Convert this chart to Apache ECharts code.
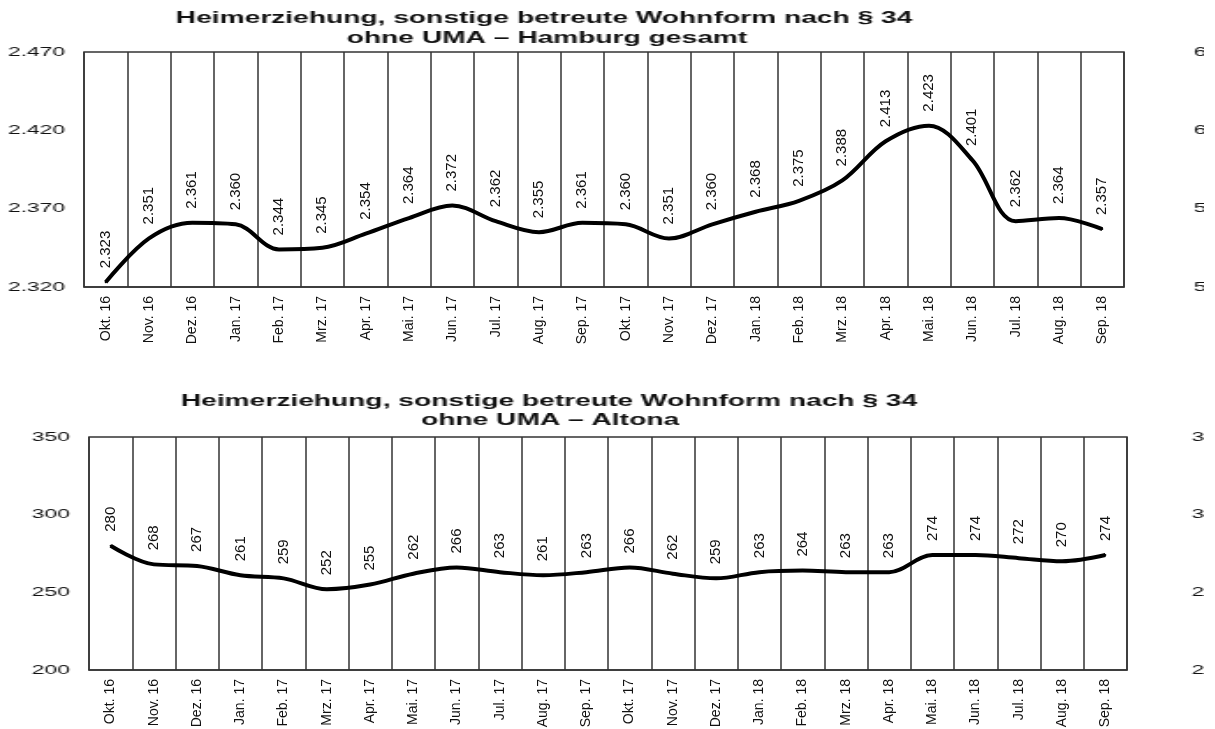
<!DOCTYPE html>
<html><head><meta charset="utf-8">
<script src="https://cdn.jsdelivr.net/npm/echarts@6/dist/echarts.min.js"></script>
<style>
html,body{margin:0;padding:0;background:#fff;overflow:hidden;}
#wrap{position:relative;width:1215px;height:729px;}
#main{position:absolute;left:0;top:0;width:1215px;height:729px;}
#over{position:absolute;left:0;top:0;width:684.2px;height:729px;transform:scaleX(1.76);transform-origin:0 0;overflow:hidden;}
</style></head><body>
<div id="wrap"><div id="main"></div><div id="over"></div></div>
<script>
const categories = ['Okt. 16','Nov. 16','Dez. 16','Jan. 17','Feb. 17','Mrz. 17','Apr. 17','Mai. 17','Jun. 17','Jul. 17','Aug. 17','Sep. 17','Okt. 17','Nov. 17','Dez. 17','Jan. 18','Feb. 18','Mrz. 18','Apr. 18','Mai. 18','Jun. 18','Jul. 18','Aug. 18','Sep. 18'];
const hamburg = [2323,2351,2361,2360,2344,2345,2354,2364,2372,2362,2355,2361,2360,2351,2360,2368,2375,2388,2413,2423,2401,2362,2364,2357];
const altona = [280,268,267,261,259,252,255,262,266,263,261,263,266,262,259,263,264,263,263,274,274,272,270,274];
const hamburgTicks = [2320,2370,2420,2470];
const hamburgRightTicks = [500,550,600,650];
const altonaTicks = [200,250,300,350];
const altonaRightTicks = [200,250,300,350];
const titleTop = ['Heimerziehung, sonstige betreute Wohnform nach § 34','ohne UMA – Hamburg gesamt'];
const titleBottom = ['Heimerziehung, sonstige betreute Wohnform nach § 34','ohne UMA – Altona'];

const S = 1.76;
const FONT = "'Liberation Sans', Arial, sans-serif";
const fmt = v => v >= 1000 ? Math.floor(v/1000) + '.' + String(v % 1000).padStart(3,'0') : String(v);

const main = echarts.init(document.getElementById('main'), null, {renderer:'canvas'});
const gridBase = {show:true, borderColor:'#333', borderWidth:1.5, backgroundColor:'transparent', outerBoundsMode:'none', containLabel:false};
function xAx(gi){
  return {gridIndex:gi, type:'category', data:categories, boundaryGap:true,
    axisLine:{show:true, lineStyle:{color:'#333', width:1.5}},
    axisTick:{show:false},
    splitLine:{show:true, interval:0, lineStyle:{color:'#333', width:1.5}},
    axisLabel:{rotate:90, interval:0, fontSize:14, fontFamily:FONT, color:'#111', margin:9}};
}
function yAx(gi, ticks){
  return {gridIndex:gi, type:'value', min:ticks[0], max:ticks[ticks.length-1],
    axisLabel:{show:false}, axisLine:{show:false}, axisTick:{show:false}, splitLine:{show:false}};
}
function lineSeries(gi, data){
  return {type:'line', xAxisIndex:gi, yAxisIndex:gi, data:data, smooth:0.35,
    symbol:'circle', symbolSize:2, itemStyle:{color:'#000'},
    lineStyle:{color:'#000', width:4},
    label:{show:true, position:'top', rotate:90, align:'left', verticalAlign:'middle', distance:13,
      fontSize:15, fontFamily:FONT, color:'#111', formatter:p => fmt(p.value)}};
}
main.setOption({
  animation:false,
  grid:[Object.assign({left:84, top:52, width:1040, height:235}, gridBase),
        Object.assign({left:89, top:437, width:1038, height:233}, gridBase)],
  xAxis:[xAx(0), xAx(1)],
  yAxis:[yAx(0, hamburgTicks), yAx(1, altonaTicks)],
  series:[lineSeries(0, hamburg), lineSeries(1, altona)]
});

const over = echarts.init(document.getElementById('over'), null, {renderer:'canvas'});
function yLab(gi, ticks, pos, margin){
  return {gridIndex:gi, type:'category', data:ticks.map(fmt), boundaryGap:false, position:pos,
    axisLine:{show:false}, axisTick:{show:false}, splitLine:{show:false},
    axisLabel:{margin:margin, fontSize:13, fontFamily:FONT, color:'#111'}};
}
function titleText(lines, cx, y1, y2){
  return lines.map((t,i) => ({type:'text', silent:true,
    style:{text:t, x:cx[i]/S, y:(i===0?y1:y2), textAlign:'center', textVerticalAlign:'middle',
      align:'center', verticalAlign:'middle',
      fontSize:16, fontWeight:'bold', fontFamily:FONT, fill:'#111'}}));
}
over.setOption({
  animation:false,
  grid:[{left:84/S, top:52, width:(1190-84)/S, height:235, outerBoundsMode:'none', containLabel:false},
        {left:89/S, top:437, width:(1190-89)/S, height:233, outerBoundsMode:'none', containLabel:false}],
  xAxis:[{gridIndex:0, type:'value', show:false}, {gridIndex:1, type:'value', show:false}],
  yAxis:[yLab(0, hamburgTicks, 'left', 10.8), yLab(0, hamburgRightTicks, 'right', 2.0),
         yLab(1, altonaTicks, 'left', 10.8), yLab(1, altonaRightTicks, 'right', 0.85)],
  series:[],
  graphic:[].concat(titleText(titleTop, [544,547], 18.5, 38.5), titleText(titleBottom, [549,550], 401.5, 421))
});
</script>
</body></html>
